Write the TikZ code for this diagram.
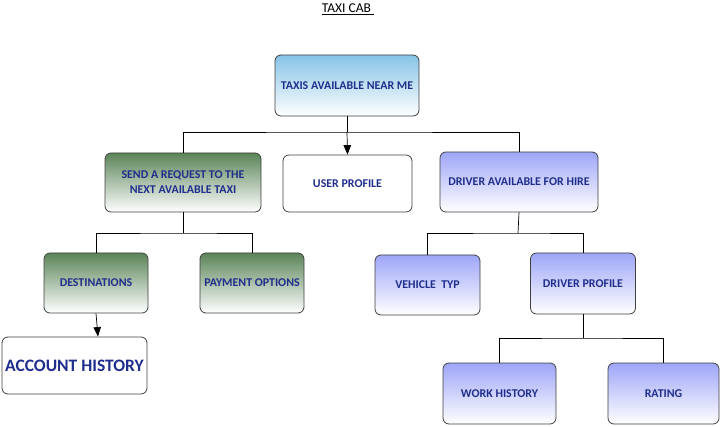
\documentclass[tikz,border=0pt]{standalone}
\usepackage{fontspec}
\setmainfont{Carlito}
\usetikzlibrary{arrows.meta}
\definecolor{txtblue}{HTML}{1F2E8C}
\definecolor{skyb}{HTML}{86C3E6}
\definecolor{grn}{HTML}{5A8458}
\definecolor{viol}{HTML}{9EA6F7}
\definecolor{edge}{HTML}{404040}
\begin{document}
\begin{tikzpicture}[x=1pt,y=-1pt,
  box/.style={draw=edge,line width=0.8pt,rounded corners=6pt,inner sep=0pt,
    font=\bfseries\fontsize{11.9}{15}\selectfont,text=txtblue,align=center},
  skybox/.style={box,top color=skyb,bottom color=white},
  grnbox/.style={box,top color=grn,bottom color=white},
  vbox/.style={box,top color=viol,bottom color=white},
  wbox/.style={box,fill=white},
  link/.style={draw=black,line width=0.7pt},
  arr/.style={link,-{Triangle[length=9.5pt,width=7.5pt]}}]
\useasboundingbox (0,0) rectangle (722,427);
\node[font=\fontsize{13.5}{15}\selectfont] (title) at (348,9) {\underline{TAXI CAB\ }};
\node[skybox,minimum width=144pt,minimum height=61pt] (taxis) at (347,85.5) {TAXIS AVAILABLE NEAR ME};
\node[grnbox,minimum width=156pt,minimum height=59pt] (send) at (183,182.5) {SEND A REQUEST TO THE\\NEXT AVAILABLE TAXI};
\node[wbox,minimum width=129pt,minimum height=57pt] (user) at (347.5,183.5) {USER PROFILE};
\node[vbox,minimum width=158pt,minimum height=60pt] (driver) at (519,182) {DRIVER AVAILABLE FOR HIRE};
\node[grnbox,minimum width=104pt,minimum height=60pt] (dest) at (96,283) {DESTINATIONS};
\node[grnbox,minimum width=104pt,minimum height=60pt] (pay) at (252,283) {PAYMENT OPTIONS};
\node[wbox,minimum width=145pt,minimum height=57pt,font=\bfseries\fontsize{17.5}{20}\selectfont] (acc) at (74.5,365.5) {ACCOUNT HISTORY};
\node[vbox,minimum width=105pt,minimum height=60pt] (veh) at (427.5,285) {VEHICLE\ \ TYP};
\node[vbox,minimum width=105pt,minimum height=61pt] (dprof) at (583,283.5) {DRIVER PROFILE};
\node[vbox,minimum width=113pt,minimum height=61pt] (work) at (499.5,393.5) {WORK HISTORY};
\node[vbox,minimum width=111pt,minimum height=61pt] (rate) at (663.5,393.5) {RATING};
\coordinate (j1) at (347,132);
\coordinate (j2) at (183,233);
\coordinate (j3) at (518,233);
\coordinate (j4) at (583,338);
\path[link] (taxis.south) -- (j1);
\path[arr] (j1) -- (user.north);
\path[link] (send.north) |- (j1) -| (driver.north);
\path[link] (send.south) -- (j2);
\path[link] (dest.north) |- (j2) -| (pay.north);
\path[link] (driver.south) -- (j3);
\path[link] (veh.north) |- (j3) -| (dprof.north);
\path[link] (dprof.south) -- (j4);
\path[link] (work.north) |- (j4) -| (rate.north);
\path[arr] (dest.south) -- ([xshift=2pt]acc.north -| dest.south);
\end{tikzpicture}
\end{document}
